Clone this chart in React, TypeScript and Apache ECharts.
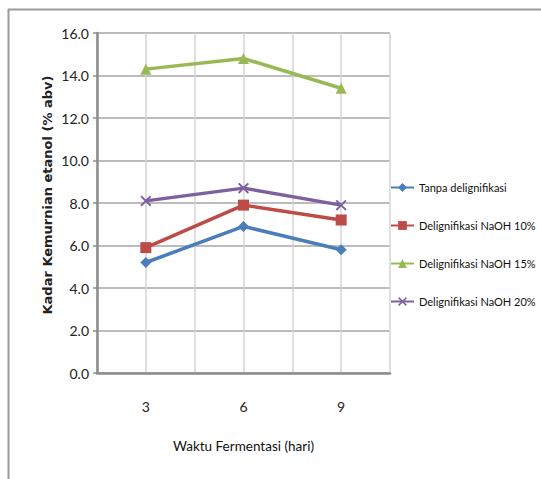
import React, { useEffect, useRef } from "react";
import * as echarts from "echarts";

const days = [3, 6, 9];
const seriesNames = [
  "Tanpa delignifikasi",
  "Delignifikasi NaOH 10%",
  "Delignifikasi NaOH 15%",
  "Delignifikasi NaOH 20%",
];
const tanpa = [5.2, 6.9, 5.8];
const naoh10 = [5.9, 7.9, 7.2];
const naoh15 = [14.3, 14.8, 13.4];
const naoh20 = [8.1, 8.7, 7.9];
const yTicks = [0, 2, 4, 6, 8, 10, 12, 14, 16];
const xTitle = "Waktu Fermentasi (hari)";
const yTitle = "Kadar Kemurnian etanol (% abv)";

const colors = ["#4A7EBB", "#BE4B48", "#98B954", "#7D60A0"];
const xSymbol =
  "path://M1.2,0 L5,3.8 L8.8,0 L10,1.2 L6.2,5 L10,8.8 L8.8,10 L5,6.2 L1.2,10 L0,8.8 L3.8,5 L0,1.2 Z";
const symbols = ["diamond", "rect", "triangle", xSymbol];
const symbolSizes = [11, 11, 11, 11];
const allValues = [tanpa, naoh10, naoh15, naoh20];

const narrow = "Lato, 'Liberation Sans', sans-serif";

export default function App() {
  const ref = useRef<HTMLDivElement>(null);
  useEffect(() => {
    if (!ref.current) return;
    const chart = echarts.init(ref.current, undefined, { renderer: "svg" });
    chart.setOption({
      animation: false,
      backgroundColor: "#ffffff",
      graphic: [
        {
          type: "line",
          shape: { x1: 8, y1: 9.5, x2: 541, y2: 9.5 },
          style: { stroke: "#9a9a9a", lineWidth: 2 },
          silent: true,
        },
        {
          type: "line",
          shape: { x1: 8.5, y1: 9, x2: 8.5, y2: 479 },
          style: { stroke: "#9a9a9a", lineWidth: 2 },
          silent: true,
        },
        {
          type: "text",
          x: 47,
          y: 195,
          rotation: Math.PI / 2,
          style: {
            text: yTitle,
            fontFamily: "'DejaVu Sans', sans-serif",
            fontWeight: "bold",
            fontSize: 13,
            fill: "#222222",
            align: "center",
            verticalAlign: "middle",
          },
        },
      ],
      grid: { left: 97, top: 33, width: 293, height: 340, containLabel: false },
      legend: {
        orient: "vertical",
        left: 390,
        top: 182,
        itemGap: 27,
        itemWidth: 23,
        itemHeight: 11,
        padding: 0,
        data: seriesNames,
        textStyle: { fontFamily: narrow, fontSize: 11, color: "#111111" },
      },
      xAxis: {
        type: "value",
        min: 1.5,
        max: 10.5,
        interval: 1.5,
        name: xTitle,
        nameLocation: "middle",
        nameGap: 66,
        nameTextStyle: { fontFamily: narrow, fontSize: 13.5, color: "#111111", verticalAlign: "top" },
        axisLine: { show: true, onZero: false, lineStyle: { color: "#8c8c8c", width: 2.5 } },
        axisTick: { show: false },
        axisLabel: {
          margin: 26,
          fontFamily: narrow,
          fontSize: 14,
          color: "#222222",
          formatter: (v: number) => (days.includes(v) ? String(v) : ""),
        },
        splitLine: { show: true, lineStyle: { color: "#d4d4d4", width: 1.5 } },
      },
      yAxis: {
        type: "value",
        min: yTicks[0],
        max: yTicks[yTicks.length - 1],
        interval: 2,
        axisLine: { show: true, lineStyle: { color: "#8c8c8c", width: 2.5 } },
        axisTick: { show: true, length: 4, lineStyle: { color: "#8c8c8c", width: 1.5 } },
        axisLabel: {
          margin: 8,
          fontFamily: narrow,
          fontSize: 14,
          color: "#222222",
          formatter: (v: number) => v.toFixed(1),
        },
        splitLine: { show: true, lineStyle: { color: "#a6a6a6", width: 1.5 } },
      },
      series: seriesNames.map((name, i) => ({
        name,
        type: "line",
        data: days.map((d, j) => [d, allValues[i][j]]),
        symbol: symbols[i],
        symbolSize: symbolSizes[i],
        showAllSymbol: true,
        itemStyle: { color: colors[i] },
        lineStyle: { color: colors[i], width: 3.5 },
      })),
    });
    return () => chart.dispose();
  }, []);
  return (
    <div
      ref={ref}
      style={{ position: "fixed", left: 0, top: 0, width: 541, height: 479 }}
    />
  );
}
